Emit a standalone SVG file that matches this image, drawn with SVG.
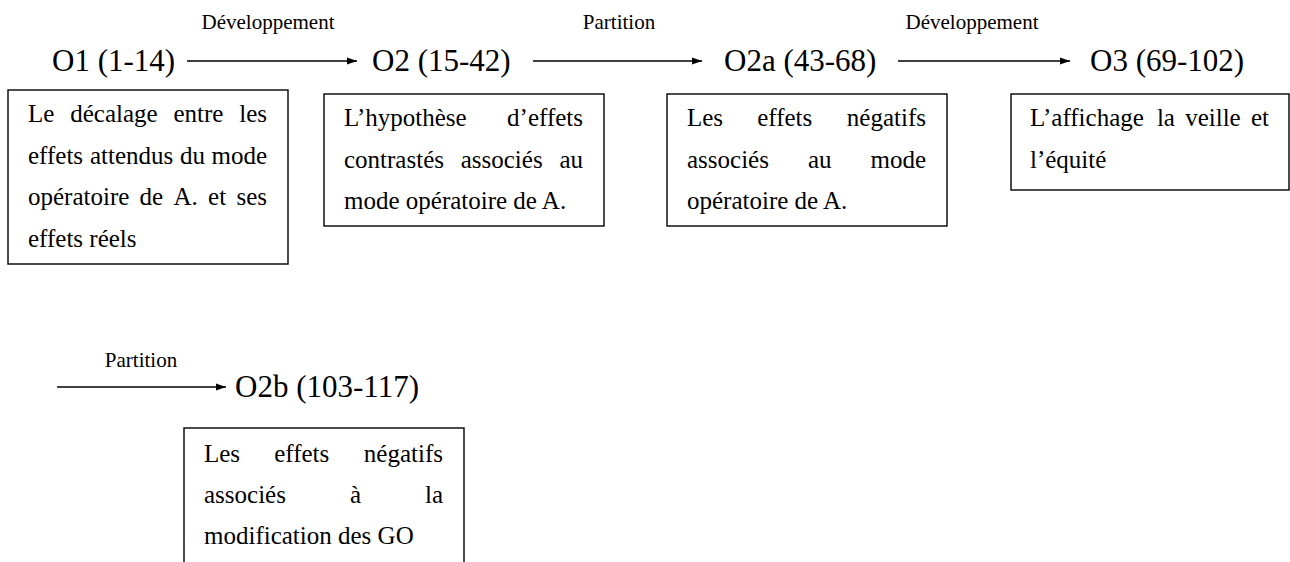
<svg xmlns="http://www.w3.org/2000/svg" width="1290" height="562" viewBox="0 0 1290 562">
<style>
text{font-family:"Liberation Serif","Times New Roman",serif;fill:#000}
.lab{font-size:21px;text-anchor:middle}
.node{font-size:31px}
.t{font-size:25px}
.e{text-anchor:end}
.box{fill:#fff;stroke:#000;stroke-width:1.4}
.conn{stroke:#000;stroke-width:1.3;fill:none}
</style>
<defs>
<marker id="ah" markerUnits="userSpaceOnUse" markerWidth="11" markerHeight="8" refX="10" refY="4" orient="auto">
<path d="M0,0.5 L10,4 L0,7.5 Z" fill="#000"/>
</marker>
</defs>
<rect width="1290" height="562" fill="#fff"/>
<g id="connectors">
<line class="conn" x1="187" y1="61" x2="357" y2="61" marker-end="url(#ah)"/>
<line class="conn" x1="533" y1="61" x2="702" y2="61" marker-end="url(#ah)"/>
<line class="conn" x1="898" y1="61" x2="1070" y2="61" marker-end="url(#ah)"/>
<line class="conn" x1="57" y1="387" x2="226" y2="387" marker-end="url(#ah)"/>
<text class="lab" x="268" y="29">Développement</text>
<text class="lab" x="619" y="29">Partition</text>
<text class="lab" x="972" y="29">Développement</text>
<text class="lab" x="141" y="367">Partition</text>
</g>
<g id="O1">
<text class="node" x="52" y="71">O1 (1-14)</text>
<rect class="box" x="8" y="90" width="280" height="174"/>
<text class="t" x="28" y="122">Le</text><text class="t" x="70.2" y="122">décalage</text><text class="t" x="173.4" y="122">entre</text><text class="t e" x="267" y="122">les</text>
<text class="t" x="28" y="163.5">effets</text><text class="t" x="90" y="163.5">attendus</text><text class="t" x="180" y="163.5">du</text><text class="t e" x="267" y="163.5">mode</text>
<text class="t" x="28" y="205">opératoire</text><text class="t" x="139.6" y="205">de</text><text class="t" x="173.5" y="205">A.</text><text class="t" x="208.1" y="205">et</text><text class="t e" x="267" y="205">ses</text>
<text class="t" x="28" y="246.5">effets réels</text>
</g>
<g id="O2">
<text class="node" x="372" y="71">O2 (15-42)</text>
<rect class="box" x="324" y="94" width="280" height="132"/>
<text class="t" x="344" y="126">L’hypothèse</text><text class="t e" x="583" y="126">d’effets</text>
<text class="t" x="344" y="167.5">contrastés</text><text class="t" x="460.7" y="167.5">associés</text><text class="t e" x="583" y="167.5">au</text>
<text class="t" x="344" y="209">mode opératoire de A.</text>
</g>
<g id="O2a">
<text class="node" x="724" y="71">O2a (43-68)</text>
<rect class="box" x="667" y="94" width="280" height="132"/>
<text class="t" x="687" y="126">Les</text><text class="t" x="757.2" y="126">effets</text><text class="t e" x="926" y="126">négatifs</text>
<text class="t" x="687" y="167.5">associés</text><text class="t" x="807.9" y="167.5">au</text><text class="t e" x="926" y="167.5">mode</text>
<text class="t" x="687" y="209">opératoire de A.</text>
</g>
<g id="O3">
<text class="node" x="1090" y="71">O3 (69-102)</text>
<rect class="box" x="1011" y="94" width="278" height="96"/>
<text class="t" x="1030" y="126">L’affichage</text><text class="t" x="1156.9" y="126">la</text><text class="t" x="1185.2" y="126">veille</text><text class="t e" x="1269" y="126">et</text>
<text class="t" x="1030" y="167.5">l’équité</text>
</g>
<g id="O2b">
<text class="node" x="235" y="397">O2b (103-117)</text>
<rect class="box" x="184" y="428" width="280" height="150"/>
<text class="t" x="204" y="462">Les</text><text class="t" x="274.2" y="462">effets</text><text class="t e" x="443" y="462">négatifs</text>
<text class="t" x="204" y="503">associés</text><text class="t" x="349.9" y="503">à</text><text class="t e" x="443" y="503">la</text>
<text class="t" x="204" y="544">modification des GO</text>
</g>
</svg>
